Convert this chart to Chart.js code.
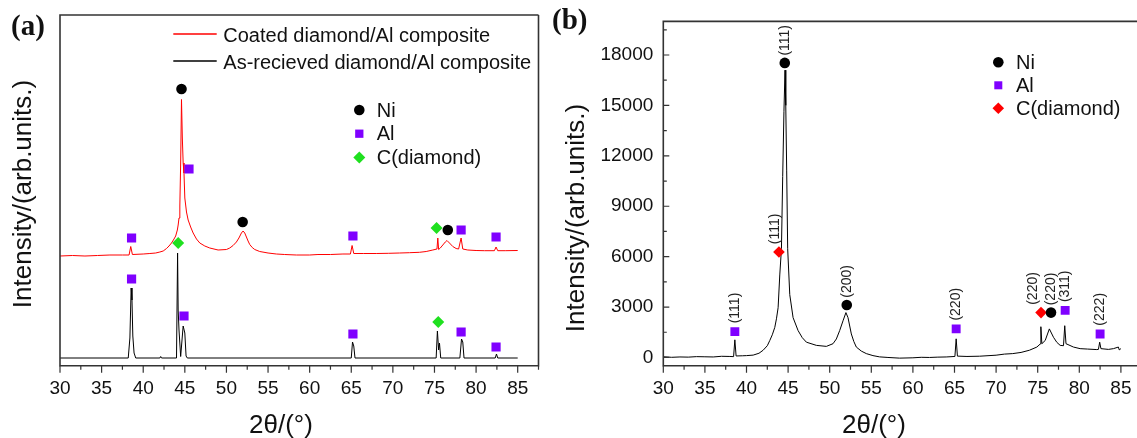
<!DOCTYPE html>
<html><head><meta charset="utf-8">
<script src="https://cdn.jsdelivr.net/npm/chart.js@4.4.1/dist/chart.umd.min.js"></script>
<style>
html,body{margin:0;padding:0;background:#fff;overflow:hidden;width:1137px;height:438px;position:relative;}
#wa{position:absolute;left:0;top:0;width:545px;height:438px;}
#wb{position:absolute;left:545px;top:0;width:605px;height:438px;}
canvas{display:block;}
</style></head><body>
<div id="wa"><canvas id="ca" width="545" height="438"></canvas></div>
<div id="wb"><canvas id="cb" width="605" height="438"></canvas></div>
<script>
// ---------------- DATA ----------------
const xTickValues = [30,35,40,45,50,55,60,65,70,75,80,85];
const yTickValuesB = [0,3000,6000,9000,12000,15000,18000];

// Panel (a): coated diamond/Al composite (red)
const coatedTheta = [30.0,31.5,33.0,34.5,36.0,37.5,38.3,38.5,38.7,40.0,40.8,41.5,42.0,42.4,42.8,43.1,43.4,43.7,43.9,44.1,44.2,44.3,44.4,44.5,44.6,44.7,44.8,44.9,45.0,45.2,45.4,45.7,46.0,46.4,46.8,47.4,48.0,49.0,50.0,50.4,50.8,51.2,51.5,51.8,52.0,52.2,52.4,52.6,52.8,53.1,53.4,54.0,55.0,56.0,57.0,58.4,60.0,61.0,62.5,64.0,64.9,65.1,65.3,66.5,68.0,69.5,70.8,72.0,73.2,74.0,74.8,75.3,75.4,75.5,75.7,76.0,76.3,76.5,76.8,77.2,77.6,77.9,78.2,78.4,79.0,80.0,81.0,82.2,82.4,82.6,83.5,85.0];
const coatedIntensity = [102,102.5,102,102.5,103,103,103,111.5,103.5,104,104.5,105,106,107,109.5,112,115,119,122,128,133,140,152,195,258.5,220,195,185,160,146,138,131,125,119,115,112,110,108,108.5,110,112.5,116,120,125,127,125,121,117,113.5,110.5,108.5,106.5,105,104,103.5,103,103,103.5,103.5,104,104,112.5,104.5,104.5,104.5,104.7,105,105.3,105.7,106.5,108,109,120,108.5,110,113,116,117.5,115,111.5,109.5,109,120,109,108,107.5,107.3,107.3,111,107.3,107.3,107.5];

// Panel (a): as-received diamond/Al composite (black)
const asRecTheta = [30.0,38.2,38.4,38.55,38.65,38.75,38.9,39.1,42.0,42.1,42.2,44.0,44.13,44.2,44.3,44.5,44.8,45.0,45.15,45.3,65.0,65.15,65.3,65.45,75.2,75.35,75.5,75.6,75.75,78.05,78.25,78.4,78.55,82.3,82.45,82.6,85.0];
const asRecIntensity = [0,0,20,70,58,22,5,0,0,1.5,0,0,105,48,28,1.5,32,25,2,0,0,16,12,0,0,27,8,15,0,0,19,16,0,0,4,0,0];

// Panel (a) phase markers
const aNiTheta = [44.6,51.95,76.6];
const aNiIntensity = [269,136,128];
const aAlTheta = [38.6,45.5,65.2,78.2,82.4,38.6,44.9,65.2,78.2,82.4];
const aAlIntensity = [120,189,122,128,121,79,42,24,26,11];
const aCTheta = [44.2,75.25,75.45];
const aCIntensity = [115,130,36];

// Panel (b): XRD pattern
const bTheta = [30.0,31.0,32.0,33.0,34.0,35.0,36.0,37.0,38.0,38.45,38.6,38.75,39.5,40.0,40.8,41.5,42.0,42.5,42.8,43.1,43.4,43.6,43.8,44.0,44.2,44.35,44.5,44.63,44.72,44.83,44.95,45.2,45.6,46.2,46.7,47.2,48.4,49.6,50.4,50.8,51.2,51.6,51.95,52.2,52.6,52.9,53.2,53.8,54.4,55.2,56.0,57.0,58.4,60.0,61.0,62.0,63.0,64.0,65.05,65.2,65.35,66.5,68.0,70.0,71.0,72.0,73.0,74.0,74.9,75.3,75.38,75.5,75.9,76.4,76.9,77.3,77.7,78.1,78.25,78.4,79.3,80.1,81.0,82.1,82.3,82.45,82.6,83.5,84.1,84.7,84.8,85.0];
const bIntensity = [40,10,30,20,50,40,30,70,60,50,1050,90,100,110,140,250,430,700,1010,1350,1790,2300,2960,4910,6470,10760,14650,17100,15000,11150,6470,3740,2370,1600,1180,910,720,660,820,1100,1600,2180,2670,2370,1400,950,620,380,230,110,35,0,-40,-20,10,0,20,30,60,1110,80,60,75,135,200,230,300,430,620,800,1830,820,1010,1700,1200,900,720,700,1890,820,620,525,500,470,480,910,525,480,525,620,450,525];

// Panel (b) phase markers with Miller indices
const bNiTheta = [44.6,52.05,76.6];
const bNiIntensity = [17530,3120,2670];
const bNiHkl = ['(111)','(200)','(220)'];
const bAlTheta = [38.6,65.2,78.3,82.5];
const bAlIntensity = [1540,1700,2800,1400];
const bAlHkl = ['(111)','(220)','(311)','(222)'];
const bCTheta = [43.9,75.4];
const bCIntensity = [6275,2670];
const bCHkl = ['(111)','(220)'];

// ---------------- HELPERS ----------------
const FONT = "'Liberation Sans', Arial, Helvetica, sans-serif";
const SERIF = "'Liberation Serif', 'Times New Roman', serif";
const pts = (xs, ys) => xs.map((x, i) => ({x: x, y: ys[i]}));

function drawMarker(ctx, ds, x, y) {
  ctx.fillStyle = ds.backgroundColor;
  ctx.beginPath();
  Chart.helpers.drawPoint(ctx, {pointStyle: ds.pointStyle, radius: ds.pointRadius, rotation: 0, borderWidth: 0}, x, y);
}

const deco = {
  id: 'deco',
  afterDatasetsDraw(chart, args, o) {
    const ctx = chart.ctx, a = chart.chartArea, xs = chart.scales.x, ys = chart.scales.y;
    ctx.save();
    // Miller index labels
    chart.data.datasets.forEach((ds, i) => {
      if (!ds.hkl) return;
      const meta = chart.getDatasetMeta(i);
      meta.data.forEach((el, j) => {
        ctx.save();
        const dx = (ds.hklShift && ds.hklShift[j]) || 0;
        ctx.translate(el.x + dx, el.y - ds.pointRadius - 2);
        ctx.rotate(-Math.PI / 2);
        ctx.font = '14px ' + FONT;
        ctx.fillStyle = '#222';
        ctx.textAlign = 'left';
        ctx.textBaseline = 'middle';
        ctx.fillText(ds.hkl[j], 0, 0);
        ctx.restore();
      });
    });
    // axis frame
    ctx.strokeStyle = '#333';
    ctx.lineWidth = 1.6;
    ctx.beginPath();
    ctx.moveTo(a.right, a.top); ctx.lineTo(a.left, a.top); ctx.lineTo(a.left, a.bottom); ctx.lineTo(a.right, a.bottom);
    if (o.fullBox) { ctx.lineTo(a.right, a.top); }
    ctx.stroke();
    // x ticks (outward)
    ctx.lineWidth = 1.2;
    const xt = xs.ticks.map(t => t.value);
    ctx.beginPath();
    xt.forEach(v => { const p = xs.getPixelForValue(v); ctx.moveTo(p, a.bottom); ctx.lineTo(p, a.bottom + 7); });
    const step = xt[1] - xt[0];
    for (let v = xt[0] + step / 2; v <= xs.max + 1e-9; v += step) {
      const p = xs.getPixelForValue(v); ctx.moveTo(p, a.bottom); ctx.lineTo(p, a.bottom + 4);
    }
    ctx.stroke();
    // y ticks (inward)
    if (o.yTicks) {
      const yt = ys.ticks.map(t => t.value);
      const ystep = yt[1] - yt[0];
      ctx.beginPath();
      yt.forEach(v => { const p = ys.getPixelForValue(v); ctx.moveTo(a.left, p); ctx.lineTo(a.left + 6, p); });
      for (let v = yt[0] + ystep / 2; v <= ys.max; v += ystep) {
        const p = ys.getPixelForValue(v); ctx.moveTo(a.left, p); ctx.lineTo(a.left + 3.5, p);
      }
      ctx.stroke();
    }
    // axis titles
    ctx.fillStyle = '#111';
    ctx.font = '26px ' + FONT;
    ctx.textAlign = 'center';
    ctx.textBaseline = 'middle';
    ctx.fillText(o.xTitle.text, o.xTitle.x, o.xTitle.y);
    ctx.save();
    ctx.translate(o.yTitle.x, o.yTitle.y);
    ctx.rotate(-Math.PI / 2);
    ctx.fillText(o.yTitle.text, 0, 0);
    ctx.restore();
    // panel letter
    ctx.font = 'bold 29px ' + SERIF;
    ctx.textAlign = 'left';
    ctx.textBaseline = 'alphabetic';
    ctx.fillText(o.panel.text, o.panel.x, o.panel.y);
    // line legend
    if (o.lineLegend) {
      const L = o.lineLegend;
      ctx.font = '20px ' + FONT;
      L.items.forEach((idx, k) => {
        const ds = chart.data.datasets[idx];
        const y = L.y0 + k * L.dy;
        ctx.strokeStyle = ds.borderColor; ctx.lineWidth = 1.3;
        ctx.beginPath(); ctx.moveTo(L.x1, y); ctx.lineTo(L.x2, y); ctx.stroke();
        ctx.fillStyle = '#111';
        ctx.fillText(ds.label, L.tx, y + 7.5);
      });
    }
    // symbol legend
    if (o.symLegend) {
      const S = o.symLegend;
      ctx.font = '20px ' + FONT;
      S.items.forEach((idx, k) => {
        const ds = chart.data.datasets[idx];
        const y = S.y0 + k * S.dy;
        const r = ds.pointStyle === 'rect' ? ds.pointRadius * 0.9 : ds.pointRadius;
        drawMarker(ctx, Object.assign({}, ds, {pointRadius: r}), S.mx, y);
        ctx.fillStyle = '#111';
        ctx.fillText(ds.label, S.tx, y + 6.5);
      });
    }
    ctx.restore();
  }
};

function baseOptions(o) {
  return {
    responsive: false, animation: false, events: [],
    layout: {padding: {top: 15, right: o.padRight, left: 0, bottom: 0}},
    plugins: {legend: {display: false}, tooltip: {enabled: false}, deco: o.deco},
    scales: {
      x: {
        type: 'linear', min: 30, max: 87.5,
        afterBuildTicks: s => { s.ticks = xTickValues.map(v => ({value: v})); },
        afterFit: s => { s.height = 72.3; },
        grid: {display: false, drawTicks: false}, border: {display: false},
        ticks: {font: {family: FONT, size: 19}, color: '#111', padding: 12, maxRotation: 0, autoSkip: false,
                callback: v => String(v)}
      },
      y: o.y
    }
  };
}

// ---------------- PANEL (a) ----------------
new Chart(document.getElementById('ca'), {
  type: 'scatter',
  data: {datasets: [
    {label: 'Ni', data: pts(aNiTheta, aNiIntensity), pointStyle: 'circle', pointRadius: 5.3, backgroundColor: '#000', borderWidth: 0, order: 0},
    {label: 'Al', data: pts(aAlTheta, aAlIntensity), pointStyle: 'rect', pointRadius: 6.5, backgroundColor: '#7f00ff', borderWidth: 0, order: 0},
    {label: 'C(diamond)', data: pts(aCTheta, aCIntensity), pointStyle: 'rectRot', pointRadius: 6, backgroundColor: '#1fe01f', borderWidth: 0, order: 0},
    {label: 'Coated diamond/Al composite', data: pts(coatedTheta, coatedIntensity), showLine: true, pointRadius: 0, borderColor: '#ff0000', borderWidth: 1, order: 1},
    {label: 'As-recieved diamond/Al composite', data: pts(asRecTheta, asRecIntensity), showLine: true, pointRadius: 0, borderColor: '#000000', borderWidth: 1, order: 1}
  ]},
  options: baseOptions({
    padRight: 6,
    deco: {
      fullBox: true, yTicks: false,
      xTitle: {text: '2θ/(°)', x: 281, y: 426},
      yTitle: {text: 'Intensity/(arb.units.)', x: 23.5, y: 194},
      panel: {text: '(a)', x: 11, y: 35},
      lineLegend: {items: [3, 4], x1: 173.3, x2: 216.7, tx: 223.3, y0: 34, dy: 27},
      symLegend: {items: [0, 1, 2], mx: 359.3, tx: 376.7, y0: 110, dy: 23.7}
    },
    y: {type: 'linear', min: -7.7, max: 343, afterFit: s => { s.width = 60; },
        grid: {display: false, drawTicks: false}, border: {display: false}, ticks: {display: false}}
  }),
  plugins: [deco]
});

// ---------------- PANEL (b) ----------------
new Chart(document.getElementById('cb'), {
  type: 'scatter',
  data: {datasets: [
    {label: 'Ni', data: pts(bNiTheta, bNiIntensity), hkl: bNiHkl, pointStyle: 'circle', pointRadius: 5.3, backgroundColor: '#000', borderWidth: 0, order: 0},
    {label: 'Al', data: pts(bAlTheta, bAlIntensity), hkl: bAlHkl, pointStyle: 'rect', pointRadius: 6.3, backgroundColor: '#7f00ff', borderWidth: 0, order: 0},
    {label: 'C(diamond)', data: pts(bCTheta, bCIntensity), hkl: bCHkl, hklShift: [-4, -8], pointStyle: 'rectRot', pointRadius: 5.8, backgroundColor: '#ff0000', borderWidth: 0, order: 0},
    {label: 'Diamond/Al composite', data: pts(bTheta, bIntensity), showLine: true, pointRadius: 0, borderColor: '#000000', borderWidth: 1, order: 1}
  ]},
  options: baseOptions({
    padRight: 8.3,
    deco: {
      fullBox: false, yTicks: true,
      xTitle: {text: '2θ/(°)', x: 329, y: 426},
      yTitle: {text: 'Intensity/(arb.units.)', x: 31.7, y: 218},
      panel: {text: '(b)', x: 7, y: 29},
      symLegend: {items: [0, 1, 2], mx: 453.3, tx: 471, y0: 62.3, dy: 23}
    },
    y: {type: 'linear', min: -490, max: 20000,
        afterBuildTicks: s => { s.ticks = yTickValuesB.map(v => ({value: v})); },
        afterFit: s => { s.width = 118.3; },
        grid: {display: false, drawTicks: false}, border: {display: false},
        ticks: {font: {family: FONT, size: 19}, color: '#111', padding: 10, callback: v => String(v)}}
  }),
  plugins: [deco]
});
</script>
</body></html>
